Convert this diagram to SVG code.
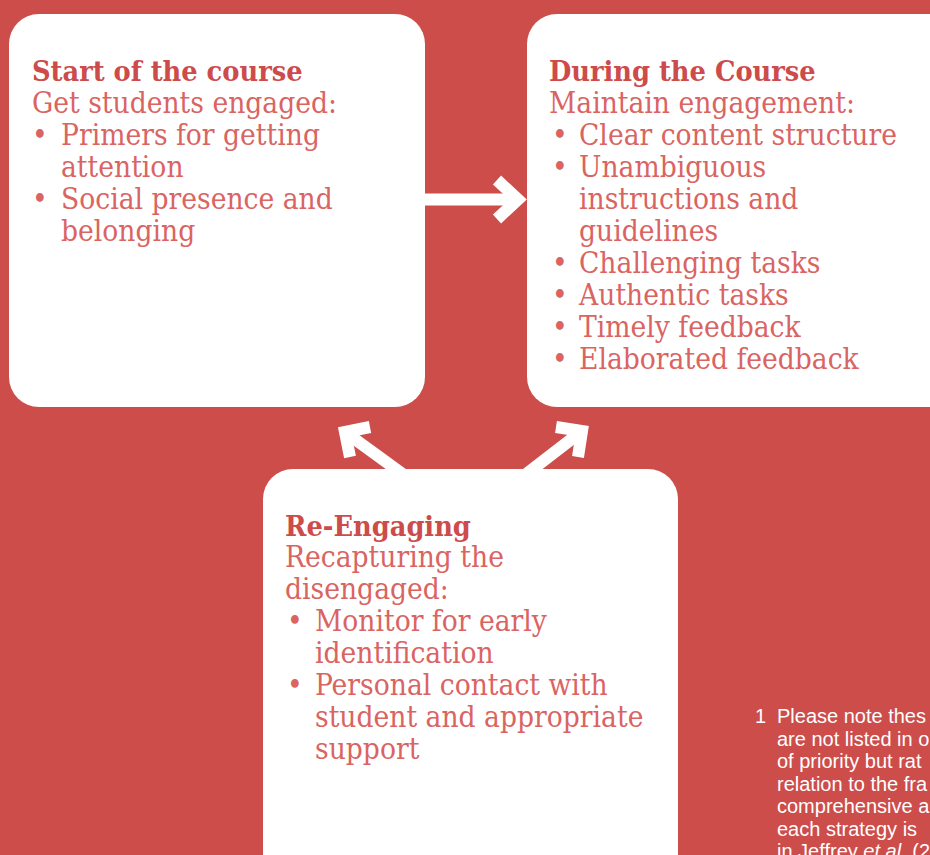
<svg xmlns="http://www.w3.org/2000/svg" width="930" height="855" viewBox="0 0 930 855">
<style>
.box{fill:#ffffff}
.title{font-family:"DejaVu Serif Condensed","DejaVu Serif",serif;font-weight:bold;font-size:28.6px;fill:#cd4c4b}
.body{font-family:"DejaVu Serif Condensed","DejaVu Serif",serif;font-size:29.6px;fill:#da6462}
.arrow{fill:none;stroke:#ffffff;stroke-width:12;stroke-linejoin:miter;stroke-miterlimit:10}
.note{font-family:"Liberation Sans",Arial,sans-serif;font-size:20px;fill:#ffffff}
</style>
<rect x="0" y="0" width="930" height="855" fill="#cd4d4b"/>
<g id="connectors">
<line class="arrow" x1="420" y1="199.5" x2="518" y2="199.5"/>
<polyline class="arrow" points="497,180 518,199.5 497,219"/>
<line class="arrow" x1="404" y1="475" x2="345" y2="432"/>
<polyline class="arrow" points="370,427 345,432 350,457"/>
<line class="arrow" x1="525" y1="475" x2="582" y2="431"/>
<polyline class="arrow" points="556,427 582,431 578,457"/>
</g>
<g id="start">
<rect class="box" x="9" y="14" width="416" height="393" rx="30"/>
<text class="title" x="32" y="81">Start of the course</text>
<text class="body" x="32" y="113">Get students engaged:</text>
<text class="body" x="32" y="145">•</text><text class="body" x="61" y="145">Primers for getting</text>
<text class="body" x="61" y="177">attention</text>
<text class="body" x="32" y="209">•</text><text class="body" x="61" y="209">Social presence and</text>
<text class="body" x="61" y="241">belonging</text>
</g>
<g id="during">
<rect class="box" x="527" y="14" width="440" height="393" rx="30"/>
<text class="title" x="549" y="81">During the Course</text>
<text class="body" x="549" y="113">Maintain engagement:</text>
<text class="body" x="552" y="145">•</text><text class="body" x="579" y="145">Clear content structure</text>
<text class="body" x="552" y="177">•</text><text class="body" x="579" y="177">Unambiguous</text>
<text class="body" x="579" y="209">instructions and</text>
<text class="body" x="579" y="241">guidelines</text>
<text class="body" x="552" y="273">•</text><text class="body" x="579" y="273">Challenging tasks</text>
<text class="body" x="552" y="305">•</text><text class="body" x="579" y="305">Authentic tasks</text>
<text class="body" x="552" y="337">•</text><text class="body" x="579" y="337">Timely feedback</text>
<text class="body" x="552" y="369">•</text><text class="body" x="579" y="369">Elaborated feedback</text>
</g>
<g id="reengaging">
<rect class="box" x="263" y="469" width="415" height="420" rx="30"/>
<text class="title" x="285" y="536">Re-Engaging</text>
<text class="body" x="285" y="567">Recapturing the</text>
<text class="body" x="285" y="599">disengaged:</text>
<text class="body" x="287" y="631">•</text><text class="body" x="315" y="631">Monitor for early</text>
<text class="body" x="315" y="663">identification</text>
<text class="body" x="287" y="695">•</text><text class="body" x="315" y="695">Personal contact with</text>
<text class="body" x="315" y="727">student and appropriate</text>
<text class="body" x="315" y="759">support</text>
</g>
<g id="footnote">
<text class="note" x="755" y="723">1</text>
<text class="note" x="777" y="723">Please note thes</text>
<text class="note" x="777" y="745.5">are not listed in o</text>
<text class="note" x="777" y="768">of priority but rat</text>
<text class="note" x="777" y="790.5">relation to the fra</text>
<text class="note" x="777" y="813">comprehensive a</text>
<text class="note" x="777" y="835.5">each strategy is</text>
<text class="note" x="777" y="858">in Jeffrey <tspan font-style="italic">et al.</tspan> (2</text>
</g>
</svg>
